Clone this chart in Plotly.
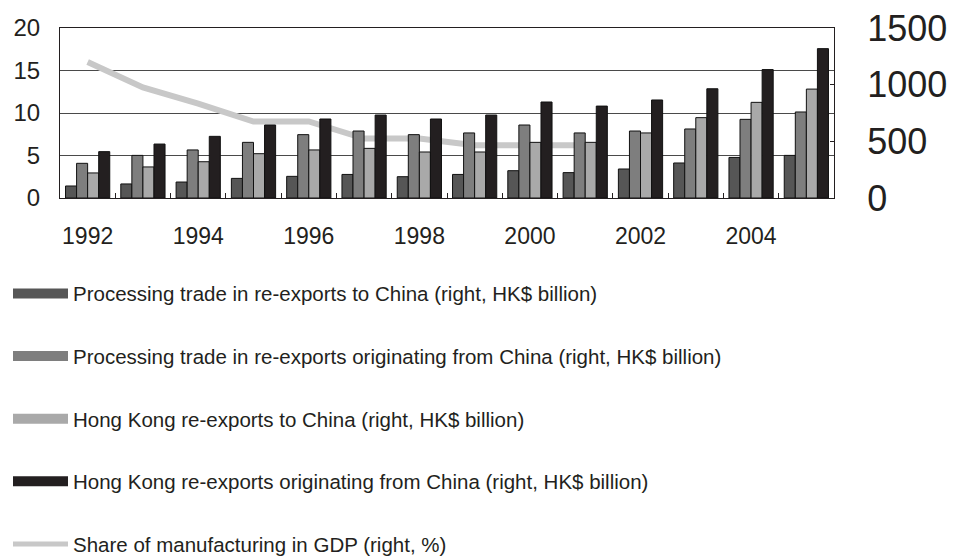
import plotly.graph_objects as go

years = [str(y) for y in range(1992, 2006)]
tick_labels = [y if int(y) % 2 == 0 and int(y) <= 2004 else "" for y in years]

# Bars in HK$ billion (right axis)
proc_to_china = [106, 124, 141, 173, 191, 208, 188, 208, 241, 224, 256, 309, 358, 376]
proc_from_china = [306, 376, 424, 491, 559, 591, 559, 574, 644, 574, 591, 609, 694, 759]
hk_to_china = [221, 274, 320, 391, 424, 438, 406, 406, 491, 491, 574, 709, 844, 961]
hk_from_china = [409, 476, 544, 644, 697, 732, 697, 732, 847, 811, 865, 964, 1133, 1318]

# Line in % (left axis)
line_years = [str(y) for y in range(1992, 2002)]
manuf_share = [16.0, 13.0, 11.1, 9.0, 9.0, 7.0, 7.0, 6.2, 6.2, 6.2]

names = [
    "Processing trade in re-exports to China (right, HK$ billion)",
    "Processing trade in re-exports originating from China (right, HK$ billion)",
    "Hong Kong re-exports to China (right, HK$ billion)",
    "Hong Kong re-exports originating from China (right, HK$ billion)",
    "Share of manufacturing in GDP (right, %)",
]
colors = ["#565656", "#7e7e7e", "#a9a9a9", "#231f20", "#c8c8c8"]

fig = go.Figure()

fig.add_trace(go.Scatter(
    x=line_years, y=manuf_share, mode="lines", yaxis="y",
    line=dict(color=colors[4], width=6), showlegend=False,
))

for vals, nm, col in zip([proc_to_china, proc_from_china, hk_to_china, hk_from_china], names[:4], colors[:4]):
    fig.add_trace(go.Bar(
        x=years, y=vals, name=nm, yaxis="y2",
        marker=dict(color=col, line=dict(color="#111111", width=1)),
        showlegend=False,
    ))

# legend entries
for i, (nm, col) in enumerate(zip(names, colors)):
    fig.add_trace(go.Scatter(
        x=[None], y=[None], mode="lines", name=nm, legendgroup=str(i),
        line=dict(color=col, width=14 if i < 4 else 5),
    ))

fig.update_layout(
    width=947, height=551,
    margin=dict(l=52, r=121, t=20, b=361, autoexpand=False),
    plot_bgcolor="white", paper_bgcolor="white",
    font=dict(family="Liberation Sans, Arial, sans-serif", color="#231f20"),
    barmode="group", bargap=0.2, bargroupgap=0,
    xaxis=dict(
        type="category", categoryorder="array", categoryarray=years,
        tickmode="array", tickvals=years, ticktext=tick_labels,
        tickson="boundaries", ticks="inside", ticklen=5, tickcolor="#231f20",
        showline=True, linecolor="#231f20", linewidth=1, tickangle=0,
        mirror=True,
        showgrid=False, tickfont=dict(size=23), ticklabelstandoff=17,
        range=[-0.5, 13.5],
    ),
    yaxis=dict(
        range=[0, 20], tickvals=[0, 5, 10, 15, 20],
        showgrid=True, gridcolor="#4a4a4a", gridwidth=1,
        showline=True, linecolor="#231f20", linewidth=1,
        ticks="", tickfont=dict(size=24), ticklabelstandoff=14,
        zeroline=False,
    ),
    yaxis2=dict(
        overlaying="y", side="right", range=[0, 1500],
        tickvals=[0, 500, 1000, 1500],
        showgrid=False, showline=True, linecolor="#231f20", linewidth=1,
        ticks="inside", ticklen=4, tickcolor="#231f20",
        tickfont=dict(size=36), ticklabelstandoff=25, zeroline=False,
        ticklabeloverflow="allow",
    ),
    legend=dict(
        xref="container", yref="container", x=0.0, y=0.518,
        xanchor="left", yanchor="top", maxheight=330, itemwidth=55,
        font=dict(size=20.5, color="#231f20"),
        tracegroupgap=33, bgcolor="rgba(0,0,0,0)",
    ),
)

fig.write_html("out.html")
